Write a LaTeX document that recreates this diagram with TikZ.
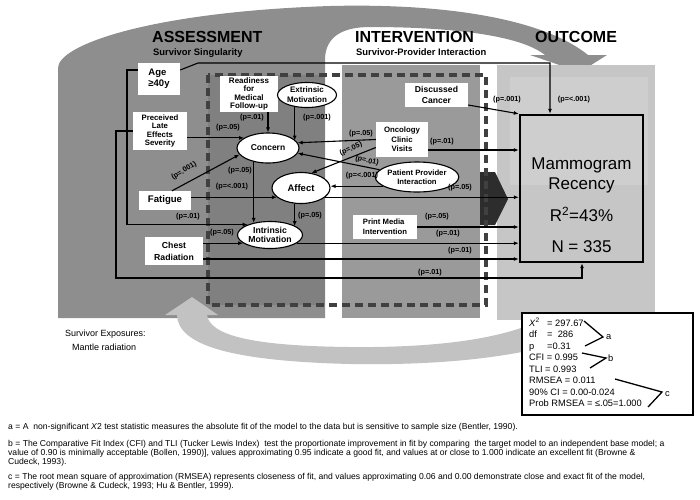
\documentclass[tikz,border=0pt]{standalone}
\usepackage{fontspec}
\setmainfont{Liberation Sans}
\usetikzlibrary{arrows.meta,shapes.geometric,calc}
\definecolor{Band}{RGB}{142,142,142}
\definecolor{Inner}{RGB}{128,128,128}
\definecolor{Interv}{RGB}{154,154,154}
\definecolor{Outc}{RGB}{198,198,198}
\definecolor{OutcIn}{RGB}{206,206,206}
\definecolor{Loop}{RGB}{194,194,194}
\definecolor{Dash}{RGB}{64,64,64}
\newcommand{\fs}[2]{\fontsize{#1}{#2}\selectfont}
\tikzset{
  whitebox/.style={fill=white, inner sep=0pt, align=center, font=\bfseries\fs{8}{8.5}},
  oval/.style={ellipse, draw, fill=white, line width=1.1pt, inner sep=0pt, align=center},
  arr/.style={-{Latex[length=5pt,width=4pt]}, line width=1.1pt},
  pval/.style={font=\bfseries\fs{7.3}{8}, inner sep=0pt},
  head/.style={font=\bfseries\fs{16}{16}, inner sep=0pt, anchor=base west},
  subhead/.style={font=\bfseries\fs{9.4}{10}, inner sep=0pt, anchor=base west},
  fitline/.style={font=\fs{9.3}{11.5}, inner sep=0pt, anchor=base west},
  footline/.style={font=\fs{8.6}{9}, inner sep=0pt, anchor=base west},
}
\begin{document}
\begin{tikzpicture}[x=1pt,y=-1pt]
\useasboundingbox (0,0) rectangle (700,499);
%
% background panels and the two big arrows
\fill[Band] (58,318) -- (58,68) .. controls (58,45) and (150,12) .. (330,6) .. controls (450,3) and (545,20) .. (588,55) -- (607,55) -- (580,72) -- (530,55) -- (545,55) .. controls (520,35) and (450,27) .. (370,27) .. controls (345,27) and (325,35) .. (325,60) -- (325,318) -- cycle;
\fill[Inner] (208,75) rectangle (325,305);
\fill[Loop] (655,290) .. controls (600,352) and (470,366) .. (350,364) .. controls (230,361) and (178,345) .. (177,315) -- (165,315) -- (192,297) -- (218,315) -- (207,315) .. controls (210,335) and (250,346) .. (350,347) .. controls (450,348) and (510,336) .. (545,318) -- (545,290) -- cycle;
\fill[Interv] (342,65) rectangle (480,318);
\fill[Outc] (497,65) rectangle (655,320);
\fill[OutcIn] (510,77) rectangle (648,185);
\fill[Dash!110] (480,172) -- (495,172) -- (508,199) -- (495,225) -- (480,225) -- cycle;
\draw[Dash, line width=4pt, dash pattern=on 8pt off 5pt] (208,75) rectangle (486,305);
%
\node[head] (assess) at (152,42) {ASSESSMENT};
\node[subhead] (assesssub) at (153,55) {Survivor Singularity};
\node[head] (interv) at (355,42) {INTERVENTION};
\node[subhead] (intervsub) at (356,55) {Survivor-Provider Interaction};
\node[head] (outcome) at (535,42) {OUTCOME};
%
% variables
\node[whitebox, align=left, font=\bfseries\fs{9.5}{11}, minimum width=42pt, minimum height=32pt] (age) at (159,79) {Age\\≥40y};
\node[whitebox, minimum width=58pt, minimum height=36pt] (readiness) at (249,94) {Readiness\\for\\Medical\\Follow-up};
\node[oval, font=\bfseries\fs{8}{10}, minimum width=59pt, minimum height=25pt] (extrinsic) at (307,95) {Extrinsic\\Motivation};
\node[whitebox, font=\bfseries\fs{7.8}{8.5}, minimum width=54pt, minimum height=38pt] (preceived) at (160,131) {Preceived\\Late\\Effects\\Severity};
\node[oval, font=\bfseries\fs{8.5}{9}, minimum width=62pt, minimum height=30pt] (concern) at (268,148) {Concern};
\node[oval, font=\bfseries\fs{9.5}{10}, minimum width=58pt, minimum height=31pt] (affect) at (301,188) {Affect};
\node[whitebox, font=\bfseries\fs{9.6}{10}, minimum width=52pt, minimum height=19pt] (fatigue) at (165,200.5) {Fatigue};
\node[oval, font=\bfseries\fs{8.7}{9.5}, minimum width=65pt, minimum height=27pt] (intrinsic) at (270,235) {Intrinsic\\Motivation};
\node[whitebox, font=\bfseries\fs{8.7}{12}, minimum width=58pt, minimum height=28pt] (chest) at (174,251) {Chest\\Radiation};
\node[whitebox, font=\bfseries\fs{8.6}{11}, minimum width=63pt, minimum height=24pt] (discussed) at (436.5,95) {Discussed\\Cancer};
\node[whitebox, font=\bfseries\fs{7.8}{9.5}, minimum width=52pt, minimum height=35pt] (oncology) at (402,139.5) {Oncology\\Clinic\\Visits};
\node[oval, font=\bfseries\fs{7.7}{9}, minimum width=70pt, minimum height=30pt] (ppi) at (417,177) {Patient Provider\\Interaction};
\node[whitebox, align=left, font=\bfseries\fs{7.7}{10}, minimum width=64pt, minimum height=24pt] (print) at (385,227) {Print Media\\Intervention};
\node[draw, line width=2.4pt, minimum width=123pt, minimum height=147pt] (mam) at (581.5,188.5) {};
\node[inner sep=0pt, anchor=north, align=center, font=\fs{17}{20}] (mamtext) at (581.5,157.6) {Mammogram\\Recency\\[12pt]R\textsuperscript{2}=43\%\\[11pt]N = 335};
%
% paths
\draw[arr] ([yshift=9pt]age.east) -- (198,63) -- (550,63) -- (mam.north -| 550,63);
\draw[arr] ([yshift=9pt]age.west) -| (127,0 |- intrinsic.155) -- (intrinsic.155);
\draw[arr] (preceived.east |- concern.157) -- (concern.157);
\draw[arr] (preceived.west) -| (116,278) -| (mam.south -| 582,0);
\draw[arr] (readiness.south -| concern.north) -- (concern.north);
\draw[arr] (extrinsic.-136) -- (extrinsic.-136 |- concern.15);
\draw[arr] ([xshift=7pt]fatigue.north) -- (concern.193);
\draw[arr] (fatigue.east |- affect.201) -- (affect.201);
\draw[arr] (affect.-21) -- (affect.-21 -| mam.west);
\draw[arr] (concern.-136) -- (concern.-136 |- intrinsic.144);
\draw[arr] (affect.-112) -- (affect.-112 |- intrinsic.19);
\draw[arr] (chest.east |- intrinsic.197) -- (intrinsic.197);
\draw[arr] (intrinsic.-17) -- (intrinsic.-17 -| mam.west);
\draw[arr] ([yshift=-8pt]chest.east) -- ([yshift=-8pt]chest.east -| mam.west);
\draw[arr] (print.east) -- (print.east -| mam.west);
\draw[arr] ([yshift=-10pt]discussed.east) -- (mam.north west);
\draw[arr] ([yshift=-10.5pt]oncology.east) -- ([yshift=-10.5pt]oncology.east -| mam.west);
\draw[arr] (oncology.west) -- (concern.10);
\draw[arr] ([yshift=-8pt]oncology.west) -- (affect.55);
\draw[arr] (ppi.169) -- (concern.-10);
\draw[arr] (ppi.195) -- (ppi.195 -| affect.east);
%
% path coefficients
\foreach \x/\y/\t [count=\i] in {574/100/{(p=<.001)}, 188/217/{(p=.01)}, 228/128/{(p=.05)},
  430/273/{(p=.01)}, 252/118/{(p=.01)}, 317/118/{(p=.001)}, 232/187/{(p=<.001)},
  460/188/{(p=.05)}, 240/171/{(p=.05)}, 310/216/{(p=.05)}, 222/233/{(p=.05)},
  448/234/{(p=.01)}, 460/251/{(p=.01)}, 437/217/{(p=.05)}, 507/100/{(p=.001)},
  442/142/{(p=.01)}, 361/134/{(p=.05)}, 362/176/{(p=<.001)}}
  \node[pval] (p\i) at (\x,\y) {\t};
\node[pval, rotate=31] (pfat) at (184,171) {(p=.001)};
\node[pval, rotate=24] (ponc) at (351,149) {(p=.05)};
\node[pval, rotate=-12] (pppi) at (367,161) {(p=.01)};
%
\node[inner sep=0pt, anchor=base west, font=\fs{9}{10}] (expo) at (65,336) {Survivor Exposures:};
\node[inner sep=0pt, anchor=base west, font=\fs{9}{10}] (mantle) at (72,350) {Mantle radiation};
%
% fit statistics
\node[draw, line width=2pt, fill=white, minimum width=171pt, minimum height=102pt] (fitbox) at (607.5,364) {};
\foreach \t [count=\i] in {
  {\makebox[18pt][l]{\textit{X}\textsuperscript{2}}= 297.67},
  {\makebox[18pt][l]{df}= \ 286},
  {\makebox[18pt][l]{p}=0.31},
  {CFI = 0.995},
  {TLI = 0.993},
  {RMSEA = 0.011},
  {90\% CI = 0.00-0.024},
  {Prob RMSEA = ≤.05=1.000}}
  \node[fitline] (fit\i) at (529,314.5+11.5*\i) {\t};
\draw[line width=1.3pt] (584,321) -- (603,337) -- (585,346);
\draw[line width=1.3pt] (582,353) -- (606,358) -- (590,368);
\draw[line width=1.3pt] (615,379) -- (662,392) -- (648,407);
\node[fitline] (fita) at (606,339) {a};
\node[fitline] (fitb) at (608,361) {b};
\node[fitline] (fitc) at (665,396) {c};
%
% notes
\node[footline] (note1) at (8,429.5) {a = A\ \ non-significant \textit{X}2 test statistic measures the absolute fit of the model to the data but is sensitive to sample size (Bentler, 1990).};
\node[footline] (note2) at (8,446.5) {b = The Comparative Fit Index (CFI) and TLI (Tucker Lewis Index)\ \ test the proportionate improvement in fit by comparing\ \ the target model to an independent base model; a};
\node[footline] (note3) at (8,455.5) {value of 0.90 is minimally acceptable (Bollen, 1990)], values approximating 0.95 indicate a good fit, and values at or close to 1.000 indicate an excellent fit (Browne \&};
\node[footline] (note4) at (8,464.5) {Cudeck, 1993).};
\node[footline] (note5) at (8,479.5) {c = The root mean square of approximation (RMSEA) represents closeness of fit, and values approximating 0.06 and 0.00 demonstrate close and exact fit of the model,};
\node[footline] (note6) at (8,488.5) {respectively (Browne \& Cudeck, 1993; Hu \& Bentler, 1999).};
\end{tikzpicture}
\end{document}
